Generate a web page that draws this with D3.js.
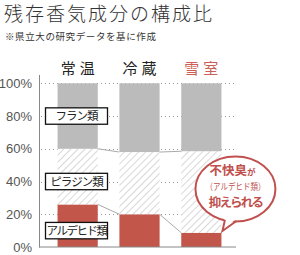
<!DOCTYPE html>
<html><head><meta charset="utf-8">
<script src="https://cdn.jsdelivr.net/npm/d3@7"></script>
<style>
html,body{margin:0;padding:0;background:#fff;}
svg{display:block;font-family:"Noto Sans CJK JP","Noto Sans",sans-serif;}
</style></head>
<body>
<svg id="c" width="300" height="255"></svg>
<script>
const categories = ["常温", "冷蔵", "雪室"];
const aldehyde = [26, 20, 8.7];
const pyrazine = [34, 38, 49.8];
const furan = [40, 42, 41.5];
const seriesNames = ["アルデヒド類", "ピラジン類", "フラン類"];
const labelAt = [10, 40, 80];
const tickValues = [0, 20, 40, 60, 80, 100];
const title = "残存香気成分の構成比";
const subtitle = "※県立大の研究データを基に作成";
const note = ["不快臭", "が", "（アルデヒド類）", "抑えられる"];

const RED = "#c2564a", GRAY = "#bbbbbb", NOTE_RED = "#c0504d";
const svg = d3.select("#c");

const defs = svg.append("defs");
const pat = defs.append("pattern").attr("id","hatch").attr("patternUnits","userSpaceOnUse")
  .attr("width",5).attr("height",5).attr("patternTransform","rotate(45)");
pat.append("rect").attr("width",5).attr("height",5).attr("fill","#fff");
pat.append("line").attr("x1",0).attr("y1",0).attr("x2",0).attr("y2",5)
  .attr("stroke","#d8d8d8").attr("stroke-width",2);

const x = d3.scaleBand().domain(categories).range([39, 240]).paddingInner(0.35).paddingOuter(0.3);
const y = d3.scaleLinear().domain([0, 100]).range([247, 83.3]);

// title
svg.append("text").attr("x",4).attr("y",20.5).attr("font-size",19).attr("letter-spacing",2)
  .attr("fill","#333").attr("font-weight",300).text(title);
svg.append("text").attr("x",5).attr("y",40).attr("font-size",9.5).attr("letter-spacing",0.6)
  .attr("fill","#333").text(subtitle);

// gridlines
svg.append("g").selectAll("line").data(tickValues.filter(d=>d>0)).join("line")
  .attr("x1",41).attr("x2",236).attr("y1",d=>Math.round(y(d))+0.5).attr("y2",d=>Math.round(y(d))+0.5)
  .attr("stroke","#999").attr("stroke-width",1).attr("stroke-dasharray","1,3");

// y axis labels
const ax = svg.append("g").attr("transform","translate(39,0)")
  .call(d3.axisLeft(y).tickValues(tickValues).tickFormat(d=>d+"%").tickSize(0).tickPadding(7));
ax.select(".domain").remove();
ax.selectAll("text").attr("font-size",13).attr("fill","#555")
  .attr("font-family","'Liberation Sans',Arial,sans-serif");

// stacked data
const rows = categories.map((c,i)=>({cat:c, ald:aldehyde[i], pyr:pyrazine[i], fur:furan[i]}));
const stack = d3.stack().keys(["ald","pyr","fur"])(rows);
const fills = {ald:RED, pyr:"url(#hatch)", fur:GRAY};

// connectors
const conn = svg.append("g");
["ald","pyr"].forEach((k,si)=>{
  for(let i=0;i<categories.length-1;i++){
    conn.append("line")
      .attr("x1",x(categories[i])+x.bandwidth()).attr("y1",y(stack[si][i][1]))
      .attr("x2",x(categories[i+1])).attr("y2",y(stack[si][i+1][1]))
      .attr("stroke","#aaa").attr("stroke-width",1);
  }
});

svg.append("g").selectAll("g").data(stack).join("g").attr("fill",d=>fills[d.key])
  .selectAll("rect").data(d=>d).join("rect")
  .attr("x",d=>x(d.data.cat)).attr("width",x.bandwidth())
  .attr("y",d=>y(d[1])).attr("height",d=>y(d[0])-y(d[1]));

// axes lines
svg.append("line").attr("x1",39.5).attr("x2",39.5).attr("y1",75).attr("y2",247.5)
  .attr("stroke","#888").attr("stroke-width",1);
svg.append("line").attr("x1",39).attr("x2",236).attr("y1",247).attr("y2",247)
  .attr("stroke","#888").attr("stroke-width",1);

// category labels
svg.append("g").selectAll("text").data(categories).join("text")
  .attr("x",d=>x(d)+x.bandwidth()/2+2).attr("y",74).attr("text-anchor","middle")
  .attr("font-size",15).attr("letter-spacing",4).attr("font-weight",400)
  .attr("fill",(d,i)=>i===2?"#cc5f55":"#222").text(d=>d);

// series label boxes
const lb = svg.append("g").selectAll("g").data(seriesNames).join("g")
  .attr("transform",(d,i)=>`translate(76.5,${y(labelAt[i])})`);
lb.append("rect").attr("x",-31).attr("y",-8.2).attr("width",62).attr("height",16.4)
  .attr("fill","#fff").attr("stroke","#111").attr("stroke-width",1.3);
lb.append("text").attr("text-anchor","middle").attr("dy","0.36em").attr("font-size",11.5)
  .attr("letter-spacing",d=>d.length>5?-1.5:-1).attr("fill","#222").text(d=>d);

// speech bubble
const cx = x(categories[2]) + x.bandwidth() + 14, cy = 189, rx = 40, ry = 32.5;
const bub = svg.append("g");
bub.append("ellipse").attr("cx",cx).attr("cy",cy).attr("rx",rx).attr("ry",ry)
  .attr("fill","#fff").attr("stroke",NOTE_RED).attr("stroke-width",2);
const tip = [cx-13, 231];
const bl = [cx-10.5, cy + ry*Math.sqrt(1-(10.5/rx)**2)];
const br = [cx+1, cy + ry*Math.sqrt(1-(1/rx)**2)];
bub.append("path").attr("d",`M${bl[0]},${bl[1]-3}L${tip[0]},${tip[1]}L${br[0]},${br[1]-3}Z`)
  .attr("fill","#fff");
bub.append("path").attr("d",`M${bl[0]},${bl[1]-0.5}L${tip[0]},${tip[1]}L${br[0]},${br[1]-0.5}`)
  .attr("fill","none").attr("stroke",NOTE_RED).attr("stroke-width",2).attr("stroke-linejoin","miter");

const t1 = bub.append("text").attr("x",cx-3).attr("y",175).attr("text-anchor","middle")
  .attr("fill",NOTE_RED).attr("font-weight",700);
t1.append("tspan").attr("font-size",12.5).text(note[0]);
t1.append("tspan").attr("font-size",8.5).text(note[1]);
bub.append("text").attr("x",cx).attr("y",189.5).attr("text-anchor","middle")
  .attr("fill",NOTE_RED).attr("font-size",9).attr("textLength",60).attr("lengthAdjust","spacingAndGlyphs")
  .text(note[2]);
bub.append("text").attr("x",cx).attr("y",207).attr("text-anchor","middle")
  .attr("fill",NOTE_RED).attr("font-size",12.5).attr("font-weight",700).attr("letter-spacing",-1.8)
  .text(note[3]);
</script>
</body></html>
